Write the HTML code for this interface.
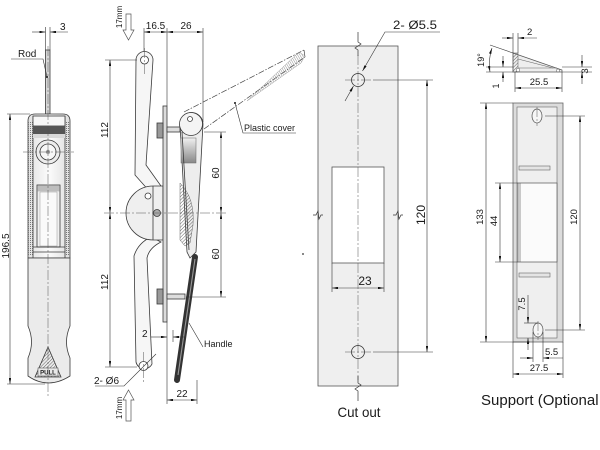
<!DOCTYPE html>
<html><head><meta charset="utf-8">
<style>
html,body{margin:0;padding:0;background:#fff;width:600px;height:450px;overflow:hidden}
svg{display:block}
text{font-family:"Liberation Sans",Arial,sans-serif;fill:#1a1a1a}
.d{stroke:#333;stroke-width:.6;fill:none}
.c{stroke:#555;stroke-width:.5;fill:none;stroke-dasharray:10 2 2 2}
.o{stroke:#3a3a3a;stroke-width:.8}
.t{font-size:10px}
</style></head><body>
<svg width="600" height="450" viewBox="0 0 600 450" xmlns="http://www.w3.org/2000/svg">
<defs>
<marker id="ar" viewBox="0 0 10 4" refX="10" refY="2" markerWidth="6" markerHeight="2.4" markerUnits="userSpaceOnUse" orient="auto-start-reverse"><path d="M0,0L10,2L0,4z" fill="#111"/></marker>
<pattern id="h" width="2.4" height="2.4" patternUnits="userSpaceOnUse" patternTransform="rotate(45)"><line x1="0" y1="0" x2="0" y2="2.4" stroke="#555" stroke-width="0.9"/></pattern>
<pattern id="h2" width="2" height="2" patternUnits="userSpaceOnUse" patternTransform="rotate(-30)"><line x1="0" y1="0" x2="0" y2="2" stroke="#777" stroke-width="0.8"/></pattern>
<pattern id="k" width="2" height="2" patternUnits="userSpaceOnUse"><rect width="1" height="1" fill="#777"/></pattern>
<linearGradient id="g1" x1="0" x2="1"><stop offset="0" stop-color="#e2e2e2"/><stop offset="0.5" stop-color="#fbfbfb"/><stop offset="1" stop-color="#dedede"/></linearGradient>
<linearGradient id="g2" x1="0" y1="0" x2="0" y2="1"><stop offset="0" stop-color="#f0f0f0"/><stop offset="1" stop-color="#888"/></linearGradient>
</defs>
<rect width="600" height="450" fill="#fff"/>

<!-- ================= LEFT FRONT VIEW ================= -->
<rect class="o" x="45.5" y="50" width="4.5" height="64" fill="#d6d6d6"/>
<line class="d" x1="45.5" y1="27" x2="45.5" y2="50"/>
<line class="d" x1="50" y1="27" x2="50" y2="50"/>
<line class="d" x1="32" y1="32" x2="45.5" y2="32" marker-end="url(#ar)"/>
<line class="d" x1="68" y1="32" x2="50" y2="32" marker-end="url(#ar)"/>
<text class="t" x="60" y="30">3</text>
<text class="t" x="18" y="57">Rod</text>
<polyline class="d" points="11,59 43,59 47,77"/>
<circle cx="47" cy="77" r="1" fill="#111"/>

<path class="o" d="M28,258 L28,121 Q28,114 35,114 L63,114 Q70,114 70,121 L70,258 Z" fill="url(#g1)"/>
<rect x="28.6" y="121" width="4.2" height="135" fill="url(#k)"/>
<rect x="65.2" y="121" width="4.2" height="135" fill="url(#k)"/>
<line class="o" x1="33" y1="116" x2="33" y2="258"/>
<line class="o" x1="65" y1="116" x2="65" y2="258"/>
<rect x="33" y="116" width="32" height="10" fill="#f7f7f7" class="o"/>
<rect x="33" y="126" width="32" height="8" fill="#555"/>
<rect x="33" y="134" width="32" height="4" fill="#d8d8d8"/>
<circle class="o" cx="48" cy="152" r="12" fill="#ececec"/>
<circle class="o" cx="48" cy="152" r="8" fill="#f7f7f7"/>
<circle cx="48" cy="152" r="2.2" fill="#999"/>
<rect class="o" x="37" y="185" width="23" height="62" fill="#f0f0f0"/>
<rect x="37.4" y="185.4" width="22.2" height="6" fill="#bdbdbd"/>
<rect x="40" y="192" width="17" height="54" fill="#fafafa" stroke="#999" stroke-width=".5"/>
<line class="o" x1="33" y1="247" x2="65" y2="247"/>
<line class="o" x1="33" y1="252" x2="65" y2="252"/>
<path class="o" d="M28,258 L28,326 Q35,342 28,358 L28,376 Q48,390 70,376 L70,358 Q63,342 70,326 L70,258 Z" fill="#ebebeb"/>
<polygon class="o" points="48,347 35,377 61,377" fill="url(#h)"/>
<rect x="38" y="368" width="20" height="8" fill="#e8e8e8" stroke="#444" stroke-width=".5"/>
<text x="48" y="374.5" font-size="6" text-anchor="middle" font-weight="bold">PULL</text>
<line class="c" x1="48" y1="46" x2="48" y2="396"/>
<line class="c" x1="23" y1="152" x2="74" y2="152"/>
<line class="d" x1="7" y1="114" x2="30" y2="114"/>
<line class="d" x1="7" y1="384" x2="45" y2="384"/>
<line class="d" x1="10" y1="114" x2="10" y2="384" marker-start="url(#ar)" marker-end="url(#ar)"/>
<text class="t" transform="translate(9,246) rotate(-90)" text-anchor="middle">196.5</text>

<!-- ================= MIDDLE SIDE VIEW ================= -->
<text transform="translate(122,17) rotate(-90)" font-size="8" text-anchor="middle">17mm</text>
<polygon points="126,14 131,14 131,30 134,30 128.5,40 123,30 126,30" fill="#fff" stroke="#555" stroke-width=".7"/>
<text transform="translate(122,408) rotate(-90)" font-size="8" text-anchor="middle">17mm</text>
<polygon points="128.5,390 134,400 131,400 131,421 126,421 126,400 123,400" fill="#fff" stroke="#555" stroke-width=".7"/>

<line class="d" x1="144" y1="28" x2="144" y2="52"/>
<line class="d" x1="167" y1="28" x2="167" y2="106"/>
<line class="d" x1="203" y1="28" x2="203" y2="122"/>
<line class="d" x1="144" y1="32" x2="167" y2="32" marker-start="url(#ar)" marker-end="url(#ar)"/>
<line class="d" x1="167" y1="32" x2="203" y2="32" marker-start="url(#ar)" marker-end="url(#ar)"/>
<text class="t" x="155.5" y="29" text-anchor="middle">16.5</text>
<text class="t" x="186" y="29" text-anchor="middle">26</text>

<!-- plastic cover -->
<line x1="184" y1="112" x2="304" y2="50" stroke="#444" stroke-width=".7" stroke-dasharray="6 1.5 1.5 1.5"/>
<line x1="204" y1="129" x2="305" y2="57" stroke="#444" stroke-width=".7" stroke-dasharray="6 1.5 1.5 1.5"/>
<line x1="304" y1="50" x2="305" y2="57" stroke="#444" stroke-width=".7"/>
<polygon points="247,101 299,52 305,56 301,63" fill="url(#h2)" stroke="#888" stroke-width=".4"/>
<circle cx="235" cy="103" r="1" fill="#111"/>
<polyline class="d" points="235,103 243,133 296,133"/>
<text x="244" y="131" font-size="9" textLength="51" lengthAdjust="spacingAndGlyphs">Plastic cover</text>

<!-- arms -->
<path class="o" d="M136,60 A8.5,8.5 0 0 1 153,60 L146,165 L161,186 L151,193 L135,175 Z" fill="#f6f6f6"/>
<circle class="o" cx="144.5" cy="60" r="4" fill="#fff"/>
<path class="o" d="M151,237 Q138,243 134,256 L136,362 A8.5,8.5 0 0 0 152,364 L147,258 Q149,248 161,242 Z" fill="#f6f6f6"/>
<circle class="o" cx="143.5" cy="366" r="4.5" fill="#fff"/>
<line class="c" x1="144.5" y1="48" x2="144.5" y2="75"/>
<line class="c" x1="143.5" y1="352" x2="143.5" y2="382"/>

<!-- hub -->
<path class="o" d="M153,186 A27,27 0 0 0 153,240 L163,240 L163,186 Z" fill="#efefef"/>
<line class="o" x1="153" y1="186" x2="153" y2="240"/>
<circle class="o" cx="157" cy="213" r="3.5" fill="#aaa"/>
<circle class="o" cx="148" cy="196" r="3" fill="#fff"/>
<rect x="164" y="211" width="3" height="3" fill="#111"/>

<!-- plate & nuts -->
<rect class="o" x="163" y="106" width="4" height="216" fill="#dcdcdc"/>
<rect class="o" x="157" y="123" width="6" height="15" fill="#999"/>
<rect class="o" x="167" y="127" width="13" height="5" fill="#ddd"/>
<rect class="o" x="157" y="289" width="6" height="15" fill="#999"/>
<rect class="o" x="167" y="294" width="18" height="5" fill="#ddd"/>

<!-- handle body -->
<path class="o" d="M180,124 A11.5,11.5 0 0 1 203,124 L196,252 L190,258 L187,252 Z" fill="#ededed"/>
<rect x="181" y="138" width="15" height="25" fill="url(#g2)" stroke="#666" stroke-width=".5"/>
<line class="o" x1="182" y1="132" x2="189" y2="250"/>
<path d="M180,183 Q195,198 193,225 L190,243 L185,246 L180,240 Z" fill="url(#h)" stroke="#666" stroke-width=".5"/>
<circle class="o" cx="191" cy="124" r="11.5" fill="#f4f4f4"/>
<circle class="o" cx="190" cy="119" r="2.5" fill="#fff"/>
<line x1="195" y1="257" x2="177" y2="380" stroke="#333" stroke-width="6" stroke-linecap="round"/>
<line x1="195" y1="259" x2="178" y2="375" stroke="#999" stroke-width="1.1"/>

<!-- center lines & dims -->
<line class="c" x1="104" y1="213" x2="228" y2="213"/>
<line class="d" x1="105" y1="60" x2="137" y2="60"/>
<line class="d" x1="105" y1="367" x2="137" y2="367"/>
<line class="d" x1="110" y1="60" x2="110" y2="213" marker-start="url(#ar)" marker-end="url(#ar)"/>
<line class="d" x1="110" y1="213" x2="110" y2="367" marker-start="url(#ar)" marker-end="url(#ar)"/>
<text class="t" transform="translate(108,130) rotate(-90)" text-anchor="middle">112</text>
<text class="t" transform="translate(108,282) rotate(-90)" text-anchor="middle">112</text>
<line class="d" x1="204" y1="132" x2="226" y2="132"/>
<line class="d" x1="186" y1="297" x2="226" y2="297"/>
<line class="d" x1="221" y1="132" x2="221" y2="213" marker-start="url(#ar)" marker-end="url(#ar)"/>
<line class="d" x1="221" y1="213" x2="221" y2="297" marker-start="url(#ar)" marker-end="url(#ar)"/>
<text class="t" transform="translate(219,173) rotate(-90)" text-anchor="middle">60</text>
<text class="t" transform="translate(219,254) rotate(-90)" text-anchor="middle">60</text>

<line class="d" x1="167" y1="322" x2="167" y2="404"/>
<line class="d" x1="173" y1="330" x2="173" y2="342"/>
<line class="d" x1="197" y1="380" x2="197" y2="404"/>
<line class="d" x1="151" y1="337" x2="167" y2="337" marker-end="url(#ar)"/>
<line class="d" x1="185" y1="337" x2="173" y2="337" marker-end="url(#ar)"/>
<text class="t" x="142" y="337">2</text>
<line class="d" x1="167" y1="400" x2="197" y2="400" marker-start="url(#ar)" marker-end="url(#ar)"/>
<text class="t" x="182" y="397" text-anchor="middle">22</text>
<polyline class="d" points="189,323 203,347"/>
<text x="204" y="347" font-size="9">Handle</text>
<text x="94" y="384" font-size="10">2- Ø6</text>
<polyline class="d" points="95,386 124,386 156,354"/>

<!-- ================= CUT OUT ================= -->
<rect x="318" y="46" width="80" height="340" fill="#efefef" stroke="#555" stroke-width=".8"/>
<rect x="332" y="167" width="52" height="96" fill="#fff" stroke="#555" stroke-width=".8"/>
<line class="c" x1="358" y1="55" x2="358" y2="380"/>
<path d="M358,32 L358,42 L361,44 L355,48 L358,50 L358,56" fill="none" stroke="#333" stroke-width=".7"/>
<path d="M358,376 L358,383 L361,385 L355,389 L358,391 L358,401" fill="none" stroke="#333" stroke-width=".7"/>
<path d="M313,215 L316,215 L318,211 L319,219 L321,215 L323,215" fill="none" stroke="#333" stroke-width=".7"/>
<path d="M393,215 L396,215 L398,211 L399,219 L401,215 L403,215" fill="none" stroke="#333" stroke-width=".7"/>
<circle cx="358" cy="80" r="6.5" fill="none" stroke="#333" stroke-width=".8"/>
<circle cx="358" cy="352" r="6.5" fill="none" stroke="#333" stroke-width=".8"/>
<line class="c" x1="345" y1="80" x2="371" y2="80"/>
<line class="c" x1="345" y1="352" x2="371" y2="352"/>
<line class="d" x1="373" y1="80" x2="433" y2="80"/>
<line class="d" x1="373" y1="352" x2="433" y2="352"/>
<line class="d" x1="427" y1="80" x2="427" y2="352" marker-start="url(#ar)" marker-end="url(#ar)"/>
<text transform="translate(425,215) rotate(-90)" font-size="12" text-anchor="middle">120</text>
<line class="d" x1="332" y1="263" x2="332" y2="292"/>
<line class="d" x1="384" y1="263" x2="384" y2="292"/>
<line class="d" x1="332" y1="288" x2="384" y2="288" marker-start="url(#ar)" marker-end="url(#ar)"/>
<text x="365" y="285" font-size="12" text-anchor="middle">23</text>
<text x="393" y="29" font-size="12" textLength="44" lengthAdjust="spacingAndGlyphs">2- Ø5.5</text>
<polyline class="d" points="440,32 385,32 362.5,71" marker-end="url(#ar)"/>
<line class="d" x1="345" y1="101" x2="353.5" y2="86" marker-end="url(#ar)"/>
<text x="359" y="417" font-size="14" text-anchor="middle" textLength="43" lengthAdjust="spacingAndGlyphs">Cut out</text>
<circle cx="303" cy="254" r="0.9" fill="#333"/>

<!-- ================= SUPPORT ================= -->
<polygon points="513,53 562,70 562,72 513,72" fill="#eee" stroke="#555" stroke-width=".7"/>
<rect x="513" y="53" width="5" height="19" fill="url(#h)" stroke="#555" stroke-width=".5"/>
<line x1="518" y1="59" x2="553" y2="68" stroke="#666" stroke-width=".6"/>
<line x1="518" y1="68" x2="557" y2="68" stroke="#666" stroke-width=".6"/>
<circle cx="518" cy="70" r="1.8" fill="#fff" stroke="#555" stroke-width=".5"/>
<circle cx="558" cy="70.5" r="1.5" fill="#fff" stroke="#555" stroke-width=".5"/>
<line class="d" x1="513" y1="33" x2="513" y2="53"/>
<line class="d" x1="518" y1="33" x2="518" y2="53"/>
<line class="d" x1="502" y1="38" x2="513" y2="38" marker-end="url(#ar)"/>
<line class="d" x1="537" y1="38" x2="518" y2="38" marker-end="url(#ar)"/>
<text x="527" y="35" font-size="9.5">2</text>
<line class="d" x1="490" y1="45" x2="513" y2="53"/>
<line class="d" x1="486" y1="72" x2="513" y2="72"/>
<line class="d" x1="486" y1="67" x2="513" y2="67"/>
<path class="d" d="M492,48 Q488,60 490,72" marker-start="url(#ar)" marker-end="url(#ar)"/>
<text transform="translate(484,60) rotate(-90)" font-size="9" text-anchor="middle">19°</text>
<line class="d" x1="503" y1="56" x2="503" y2="67" marker-end="url(#ar)"/>
<line class="d" x1="503" y1="82" x2="503" y2="72" marker-end="url(#ar)"/>
<text transform="translate(499,86) rotate(-90)" font-size="9" text-anchor="middle">1</text>
<line class="d" x1="562" y1="67" x2="592" y2="67"/>
<line class="d" x1="562" y1="72" x2="592" y2="72"/>
<line class="d" x1="582" y1="55" x2="582" y2="67" marker-end="url(#ar)"/>
<line class="d" x1="582" y1="84" x2="582" y2="72" marker-end="url(#ar)"/>
<text transform="translate(588,71) rotate(-90)" font-size="9.5" text-anchor="middle">3</text>
<line class="d" x1="515" y1="72" x2="515" y2="92"/>
<line class="d" x1="562" y1="72" x2="562" y2="92"/>
<line class="d" x1="515" y1="88" x2="562" y2="88" marker-start="url(#ar)" marker-end="url(#ar)"/>
<text x="539" y="85" font-size="9.5" text-anchor="middle">25.5</text>

<rect x="513" y="103" width="50" height="239" fill="#dcdcdc" stroke="#666" stroke-width=".8"/>
<rect x="517" y="107" width="40" height="231" fill="#efefef" stroke="#666" stroke-width=".6"/>
<rect x="518" y="183" width="39" height="79" fill="#fbfbfb" stroke="#555" stroke-width=".7"/>
<line x1="520" y1="183" x2="520" y2="262" stroke="#555" stroke-width=".6"/>
<rect x="519" y="166" width="31" height="4" fill="#e4e4e4" stroke="#666" stroke-width=".6"/>
<rect x="519" y="273" width="31" height="4" fill="#e4e4e4" stroke="#666" stroke-width=".6"/>
<ellipse cx="537" cy="116" rx="5" ry="7" fill="#f6f6f6" stroke="#555" stroke-width=".7"/>
<ellipse cx="538" cy="330" rx="5" ry="7" fill="#f6f6f6" stroke="#555" stroke-width=".7"/>
<line class="c" x1="537" y1="107" x2="537" y2="126"/>
<line class="c" x1="538" y1="321" x2="538" y2="340"/>
<line class="d" x1="480" y1="103" x2="513" y2="103"/>
<line class="d" x1="480" y1="342" x2="530" y2="342"/>
<line class="d" x1="486" y1="103" x2="486" y2="342" marker-start="url(#ar)" marker-end="url(#ar)"/>
<text transform="translate(483,217) rotate(-90)" font-size="9.5" text-anchor="middle">133</text>
<line class="d" x1="495" y1="183" x2="518" y2="183"/>
<line class="d" x1="495" y1="262" x2="518" y2="262"/>
<line class="d" x1="500" y1="183" x2="500" y2="262" marker-start="url(#ar)" marker-end="url(#ar)"/>
<text transform="translate(497,221) rotate(-90)" font-size="9.5" text-anchor="middle">44</text>
<line class="d" x1="545" y1="116" x2="585" y2="116"/>
<line class="d" x1="545" y1="330" x2="585" y2="330"/>
<line class="d" x1="580" y1="116" x2="580" y2="330" marker-start="url(#ar)" marker-end="url(#ar)"/>
<text transform="translate(577,217) rotate(-90)" font-size="9.5" text-anchor="middle">120</text>
<line class="d" x1="524" y1="323" x2="538" y2="323"/>
<line class="d" x1="528" y1="295" x2="528" y2="323" marker-end="url(#ar)"/>
<line class="d" x1="528" y1="350" x2="528" y2="338" marker-end="url(#ar)"/>
<text transform="translate(525,304) rotate(-90)" font-size="9.5" text-anchor="middle">7.5</text>
<line class="d" x1="533" y1="332" x2="533" y2="362"/>
<line class="d" x1="543" y1="332" x2="543" y2="362"/>
<line class="d" x1="520" y1="358" x2="533" y2="358" marker-end="url(#ar)"/>
<polyline class="d" points="563,358 543,358" marker-end="url(#ar)"/>
<text x="545" y="355" font-size="9.5">5.5</text>
<line class="d" x1="513" y1="342" x2="513" y2="378"/>
<line class="d" x1="563" y1="342" x2="563" y2="378"/>
<line class="d" x1="513" y1="374" x2="563" y2="374" marker-start="url(#ar)" marker-end="url(#ar)"/>
<text x="539" y="371" font-size="9.5" text-anchor="middle">27.5</text>
<text x="481" y="405" font-size="15">Support (Optional</text>
</svg>
</body></html>
